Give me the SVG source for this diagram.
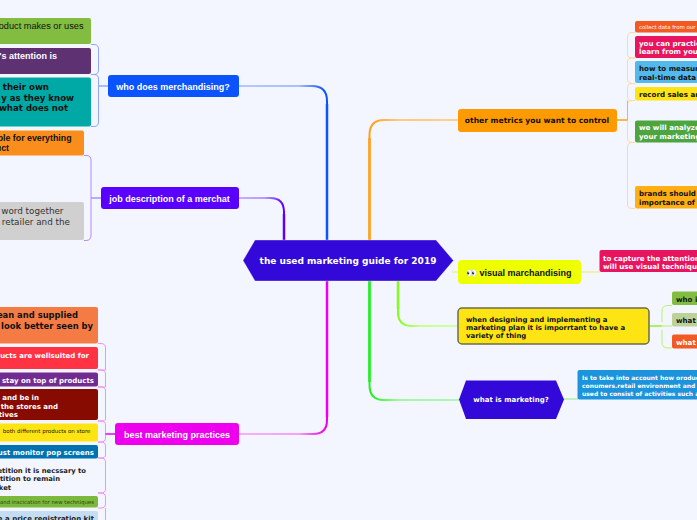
<svg xmlns="http://www.w3.org/2000/svg" width="697" height="520" viewBox="0 0 697 520" font-family="'DejaVu Sans',sans-serif" font-weight="bold">
<style>
.l{font-family:"Liberation Sans",Arial,sans-serif}
.r{font-weight:normal}
.w{fill:#fff}.k{fill:#111}
.c{fill:none;stroke-linecap:butt}
.n{stroke:#fff;stroke-opacity:.35;stroke-width:1}
</style>
<defs>
<linearGradient id="g1" gradientUnits="userSpaceOnUse" x1="238" y1="0" x2="325" y2="0"><stop offset="0" stop-color="#b4c8ff"/><stop offset=".7" stop-color="#a8c0ff"/><stop offset="1" stop-color="#0a53ff"/></linearGradient>
<linearGradient id="g2" gradientUnits="userSpaceOnUse" x1="238" y1="0" x2="283" y2="0"><stop offset="0" stop-color="#c8b0ff"/><stop offset=".6" stop-color="#b898ff"/><stop offset="1" stop-color="#5a00ff"/></linearGradient>
<linearGradient id="g3" gradientUnits="userSpaceOnUse" x1="238" y1="0" x2="325" y2="0"><stop offset="0" stop-color="#f8b0f8"/><stop offset=".7" stop-color="#f8a0f8"/><stop offset="1" stop-color="#ee00ee"/></linearGradient>
<linearGradient id="g4" gradientUnits="userSpaceOnUse" x1="458" y1="0" x2="371" y2="0"><stop offset="0" stop-color="#ffd090"/><stop offset=".7" stop-color="#ffc880"/><stop offset="1" stop-color="#ff9f1c"/></linearGradient>
<linearGradient id="g5" gradientUnits="userSpaceOnUse" x1="459" y1="0" x2="371" y2="0"><stop offset="0" stop-color="#b0f8b0"/><stop offset=".7" stop-color="#a0f8a0"/><stop offset="1" stop-color="#22ee22"/></linearGradient>
<linearGradient id="g6" gradientUnits="userSpaceOnUse" x1="458" y1="0" x2="399" y2="0"><stop offset="0" stop-color="#d0ffa0"/><stop offset=".65" stop-color="#c8ff90"/><stop offset="1" stop-color="#80ff1a"/></linearGradient>
</defs>
<rect width="697" height="520" fill="#f3f6fe"/>
<g id="connectors" class="c">
<path d="M238 86H312Q327 86 327 101V240" stroke="url(#g1)" stroke-width="2"/><path d="M327 104V240" stroke="#0a53ff" stroke-width="2.500"/>
<path d="M238 198H270Q284 198 284 212V240" stroke="url(#g2)" stroke-width="2"/><path d="M284 214V240" stroke="#5a00ff" stroke-width="2.500"/>
<path d="M238 434H313Q327 434 327 420V281" stroke="url(#g3)" stroke-width="2"/><path d="M327 417V281" stroke="#ee00ee" stroke-width="2.500"/>
<path d="M458 120H384Q369.500 120 369.500 135V240" stroke="url(#g4)" stroke-width="2"/><path d="M369.500 138V240" stroke="#ff9f1c" stroke-width="2.500"/>
<path d="M369.500 281V385Q369.500 400 384 400H459" stroke="url(#g5)" stroke-width="2"/><path d="M369.500 281V382" stroke="#22ee22" stroke-width="2.500"/>
<path d="M398 281V312Q398 326 412 326H458" stroke="url(#g6)" stroke-width="2"/><path d="M398 281V309" stroke="#80ff1a" stroke-width="2.500"/>
<path d="M452 272H458M581 272H600" stroke="#e8f060" stroke-width="1.200"/>
<path d="M564 399H578" stroke="#a8f0a8" stroke-width="1.500"/>
<g stroke="#8fa8ff" stroke-width="1"><path d="M91 44.500H94Q98.500 44.500 98.500 49V70Q98.500 74.500 94 74.500H91"/><path d="M91 74.500H94Q98.500 74.500 98.500 79V122Q98.500 126.500 94 126.500H91"/><path d="M98.500 86H108" stroke-width="1.500"/></g>
<g stroke="#b08cff" stroke-width="1"><path d="M84 155.500H86Q91 155.500 91 160V235Q91 240.500 86 240.500H84"/><path d="M91 198H101" stroke-width="1.500"/></g>
<g stroke="#f090f8" stroke-width="1"><path d="M98 343.500H101Q105.500 343.500 105.500 348V370Q105.500 370 101 370H98"/><path d="M98 370H101Q105.500 370 105.500 374V387H98"/><path d="M98 387H101Q105.500 387 105.500 391V420Q105.500 421 101 421H98"/><path d="M98 421H101Q105.500 421 105.500 425V438Q105.500 442 101 442H98"/><path d="M98 442H101Q105.500 442 105.500 446V455Q105.500 458 101 458H98"/><path d="M98 458H101Q105.500 458 105.500 462V489Q105.500 493 101 493H98"/><path d="M98 493H101Q105.500 493 105.500 497V504Q105.500 508 101 508H98"/><path d="M105.500 508V520"/><path d="M105.500 434H115" stroke="#ee00ee" stroke-width="1.500"/></g>
<g stroke="#ffd9a0" stroke-width="1"><path d="M635 32.500H632Q627.500 32.500 627.500 37V54Q627.500 58 632 58H635"/><path d="M635 58H632Q627.500 58 627.500 62V79Q627.500 83.500 632 83.500H635"/><path d="M635 83.500H632Q627.500 83.500 627.500 88V97Q627.500 100.500 632 100.500H635"/><path d="M635 100.500H632Q627.500 100.500 627.500 105V138Q627.500 142.500 632 142.500H635"/><path d="M635 142.500H632Q627.500 142.500 627.500 147V204Q627.500 208.500 632 208.500H635"/><path d="M617 120H627.500" stroke="#ff9f1c" stroke-width="1.500"/><path d="M627.500 100.500V120" stroke="#ffb040" stroke-width="1"/></g>
<g stroke="#b8f070" stroke-width="1"><path d="M672 305.500H668Q662 305.500 662 311V322"/><path d="M672 326H662"/><path d="M672 348H668Q662 348 662 342V330"/><path d="M650 326H662" stroke="#90f030" stroke-width="1.500"/></g>
</g>
<g id="n-root"><path d="M255 240H436L453.500 260.500 436 281H255L243 260.500Z" fill="#3209d8" class="n"/><text x="348" y="264" font-size="9" text-anchor="middle" class="w">the used marketing guide for 2019</text></g>
<g id="n-who"><rect x="108" y="75" width="131" height="22" rx="3" fill="#0a53ff"/><text x="173" y="90" font-size="9" text-anchor="middle" class="l w">who does merchandising?</text></g>
<g id="n-job"><rect x="101" y="187" width="138" height="22" rx="3" fill="#5a00ff"/><text x="169.500" y="201.500" font-size="9" text-anchor="middle" class="l w">job description of a merchat</text></g>
<g id="n-best"><rect x="115" y="423" width="124" height="22" rx="3" fill="#ee00ee"/><text x="177" y="437.500" font-size="9" text-anchor="middle" class="l w">best marketing practices</text></g>
<g id="n-metrics"><rect x="458" y="109" width="159" height="23" rx="3" fill="#ff9a00"/><text x="537" y="123" font-size="7.600" text-anchor="middle" class="k">other metrics you want to control</text></g>
<g id="n-visual"><rect x="458" y="260" width="123" height="24" rx="4" fill="#eeff00"/><text x="466" y="275.500" font-size="9" class="l k">👀 visual marchandising</text></g>
<g id="n-plan"><rect x="458" y="308" width="191" height="36" rx="4" fill="#ffe414" stroke="#6b6b50" stroke-width="1.500"/><g font-size="6.900" class="k"><text x="466" y="321.500">when designing and implementing a</text><text x="466" y="329.500">marketing plan it is imporrtant to have a</text><text x="466" y="338">variety of thing</text></g></g>
<g id="n-what"><path d="M466 380.500H556L564 399.500 556 419H466L459 399.500Z" fill="#3209d8"/><text x="511" y="402" font-size="7" text-anchor="middle" class="w">what is marketing?</text></g>
<g id="n-l1"><rect x="-20" y="18" width="111" height="26" rx="2" fill="#82bd42"/><text x="83.500" y="29" font-size="9.200" text-anchor="end" class="l r k">product makes or uses</text></g>
<g id="n-l2"><rect x="-20" y="48" width="111" height="26" rx="2" fill="#5e3272"/><text x="57" y="59" font-size="9" text-anchor="end" class="l w">T's attention is</text></g>
<g id="n-l3"><rect x="-20" y="77.500" width="111" height="49" rx="2" fill="#00a9a5"/><g font-size="8.600" text-anchor="end" class="k"><text x="49" y="89.500">their own</text><text x="74" y="100.500">y as they know</text><text x="68" y="111">what does not</text></g></g>
<g id="n-j1"><rect x="-20" y="130.500" width="104" height="25" rx="2" fill="#f98e1d"/><g font-size="8.800" text-anchor="end" class="l k"><text x="71.500" y="141">ble for everything</text><text x="9" y="151">uct</text></g></g>
<g id="n-j2"><rect x="-20" y="202" width="104" height="38" rx="2" fill="#d0d0d0"/><g font-size="8.800" text-anchor="end" class="r" fill="#333"><text x="63.500" y="214">word together</text><text x="70" y="225">retailer and the</text></g></g>
<g id="n-b1"><rect x="-20" y="307" width="118" height="36.500" rx="2" fill="#f47c44"/><g font-size="8.400" text-anchor="end" class="k"><text x="78" y="318">ean and supplied</text><text x="93" y="329">look better seen by</text></g></g>
<g id="n-b2"><rect x="-20" y="347" width="118" height="22" rx="2" fill="#ff3344"/><text x="89" y="358" font-size="7" text-anchor="end" class="w">ucts are wellsuited for</text></g>
<g id="n-b3"><rect x="-20" y="372.500" width="118" height="14" rx="2" fill="#722c91"/><text x="94" y="382.500" font-size="7" text-anchor="end" class="w">stay on top of products</text></g>
<g id="n-b4"><rect x="-20" y="389" width="118" height="31" rx="2" fill="#880b02"/><g font-size="7" text-anchor="end" class="w"><text x="39" y="399.500">and be in</text><text x="58" y="408.500">the stores and</text><text x="18" y="416.500">tives</text></g></g>
<g id="n-b5"><rect x="-20" y="423.500" width="118" height="18" rx="2" fill="#ffe414"/><text x="90.500" y="432.500" font-size="5.500" text-anchor="end" class="r k">both different products on store</text></g>
<g id="n-b6"><rect x="-20" y="445" width="118" height="13.500" rx="2" fill="#0072b0"/><text x="94" y="455" font-size="7" text-anchor="end" class="w">ust monitor pop screens</text></g>
<g id="n-b7"><g font-size="6.800" text-anchor="end" fill="#222"><text x="86" y="472.500">etition it is necssary to</text><text x="60" y="480.500">tition to remain</text><text x="11" y="489.500">ket</text></g></g>
<g id="n-b8"><rect x="-20" y="496" width="118" height="11.500" rx="2" fill="#7cb83c"/><text x="94" y="504" font-size="5.400" text-anchor="end" class="r" fill="#2a4a10">and inscication for new techniques</text></g>
<g id="n-b9"><rect x="-20" y="511" width="118" height="15" rx="2" fill="#c5ddf2"/><text x="94" y="521" font-size="7" text-anchor="end" fill="#222">e a price registration kit</text></g>
<g id="n-r1"><rect x="635" y="21" width="80" height="11.500" rx="2" fill="#f15a22"/><text x="639" y="29" font-size="5.400" class="r" fill="#fff">collect data from our</text></g>
<g id="n-r2"><rect x="635" y="36" width="80" height="22" rx="2" fill="#e8145e"/><g font-size="7.100" class="w"><text x="639" y="45.500">you can practic</text><text x="639" y="54">learn from you</text></g></g>
<g id="n-r3"><rect x="635" y="61" width="80" height="22" rx="2" fill="#53b8ea"/><g font-size="7.100" class="k"><text x="639" y="71">how to measur</text><text x="639" y="79.500">real-time data</text></g></g>
<g id="n-r4"><rect x="635" y="87" width="80" height="13.500" rx="2" fill="#ffe414"/><text x="639" y="96.500" font-size="7.100" class="k">record sales an</text></g>
<g id="n-r5"><rect x="635" y="120.500" width="80" height="22" rx="2" fill="#4ea540"/><g font-size="7.100" class="w"><text x="639" y="130">we will analyze</text><text x="639" y="138.500">your marketing</text></g></g>
<g id="n-r6"><rect x="635" y="186" width="80" height="22.500" rx="2" fill="#ffae14"/><g font-size="7.100" class="k"><text x="639" y="195.500">brands should</text><text x="639" y="204.500">importance of r</text></g></g>
<g id="n-v1"><rect x="599.500" y="250" width="110" height="22" rx="2" fill="#e8145e"/><g font-size="7.100" class="w"><text x="603" y="260.500">to capture the attention</text><text x="603" y="268.500">will use visual technique</text></g></g>
<g id="n-p1"><rect x="672" y="291.500" width="40" height="13.500" rx="2" fill="#82bd42"/><text x="676" y="301.500" font-size="7.100" class="k">who i</text></g>
<g id="n-p2"><rect x="672" y="313" width="40" height="13.500" rx="2" fill="#bdd19b"/><text x="676" y="322.500" font-size="7.100" class="k">what</text></g>
<g id="n-p3"><rect x="672" y="334.500" width="40" height="14" rx="2" fill="#f15a22"/><text x="676" y="344.500" font-size="7.100" class="w">what</text></g>
<g id="n-w1"><rect x="577.500" y="370" width="130" height="29.500" rx="2" fill="#1c93dc"/><g font-size="6" class="w"><text x="582" y="379.500">Is to take into account how oroduc</text><text x="582" y="387.500">conumers.retail environment and t</text><text x="582" y="395.500">used to consist of activities such a</text></g></g>
</svg>
